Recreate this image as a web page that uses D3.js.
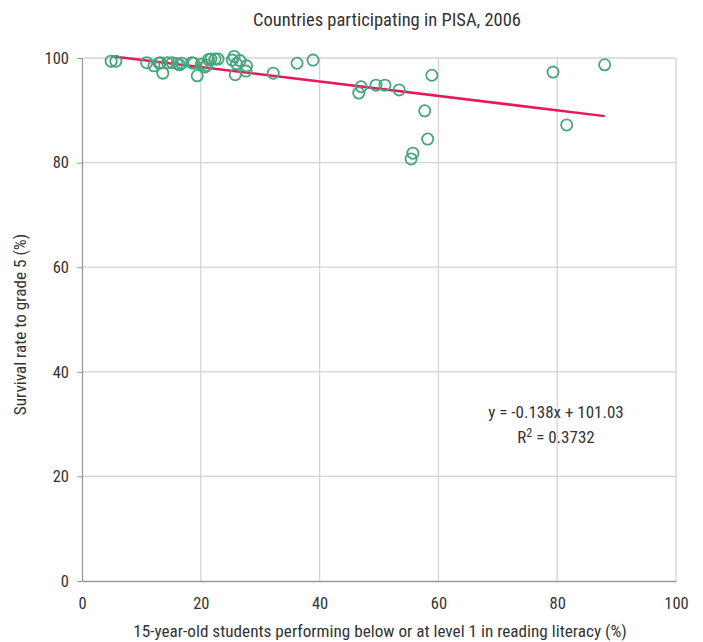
<!DOCTYPE html>
<html><head><meta charset="utf-8">
<script src="https://cdn.jsdelivr.net/npm/d3@7"></script>
<style>
body{margin:0;background:#fff;}
text{font-family:"Liberation Sans Narrow","Roboto Condensed","Arial Narrow",sans-serif;fill:#333;}
</style></head><body>
<svg id="c" width="703" height="642"></svg>
<script>
const title = "Countries participating in PISA, 2006";
const xLabel = "15-year-old students performing below or at level 1 in reading literacy (%)";
const yLabel = "Survival rate to grade 5 (%)";
const xTicks = [0,20,40,60,80,100];
const yTicks = [0,20,40,60,80,100];
const lowReaders = [4.9,5.7,10.9,12.1,13.0,13.2,13.6,14.4,15.2,16.0,16.4,16.8,18.5,18.8,19.4,20.1,20.7,21.0,21.3,21.7,22.4,22.9,25.3,25.6,25.8,26.0,26.6,27.7,27.6,32.2,36.2,38.9,46.6,47.0,49.5,51.0,53.4,58.9,57.7,58.2,55.7,55.4,79.3,81.6,88.0];
const survival = [99.4,99.4,99.1,98.5,99.0,99.1,97.1,99.1,99.1,98.9,98.7,99.0,99.1,99.0,96.6,98.8,98.3,98.6,99.7,99.8,99.8,99.8,99.6,100.3,96.8,98.9,99.5,98.5,97.5,97.1,99.0,99.6,93.3,94.5,94.8,94.8,93.9,96.7,89.9,84.5,81.8,80.7,97.3,87.2,98.7];
const slope = -0.138, intercept = 101.03, r2 = "0.3732";

const svg = d3.select("#c");
const m = {l:82, r:27, t:58, b:61};
const W = 703, H = 642;
const x = d3.scaleLinear().domain([0,100]).range([m.l, W-m.r]);
const y = d3.scaleLinear().domain([0,100]).range([H-m.b, m.t]);

// gridlines
svg.append("g").selectAll("line").data(xTicks.slice(1)).join("line")
  .attr("x1",d=>x(d)).attr("x2",d=>x(d)).attr("y1",y(0)).attr("y2",y(100))
  .attr("stroke","#d4d4d4").attr("stroke-width",1.3);
svg.append("g").selectAll("line").data(yTicks.slice(1)).join("line")
  .attr("x1",x(0)).attr("x2",x(100)).attr("y1",d=>y(d)).attr("y2",d=>y(d))
  .attr("stroke","#d4d4d4").attr("stroke-width",1.3);

// axes
const xa = svg.append("g").attr("transform",`translate(0,${y(0)})`)
  .call(d3.axisBottom(x).tickValues(xTicks).tickSize(0).tickPadding(16));
xa.select(".domain").attr("stroke","#999").attr("stroke-width",1.3);
xa.selectAll("text").attr("font-size",16.5).style("fill","#333");
const ya = svg.append("g").attr("transform",`translate(${x(0)},0)`)
  .call(d3.axisLeft(y).tickValues(yTicks).tickSize(5).tickSizeOuter(0).tickPadding(8));
ya.select(".domain").attr("stroke","#999").attr("stroke-width",1.3);
ya.selectAll(".tick line").attr("stroke","#999");
ya.selectAll("text").attr("font-size",16.5).style("fill","#333");

// trendline
const xs = d3.extent(lowReaders);
svg.append("line")
  .attr("x1",x(xs[0])).attr("y1",y(slope*xs[0]+intercept))
  .attr("x2",x(xs[1])).attr("y2",y(slope*xs[1]+intercept))
  .attr("stroke","#e8185c").attr("stroke-width",2.5);

// points
svg.append("g").selectAll("circle").data(lowReaders).join("circle")
  .attr("cx",d=>x(d)).attr("cy",(d,i)=>y(survival[i])).attr("r",5.6)
  .attr("fill","none").attr("stroke","#46a67c").attr("stroke-width",1.8);

// texts
svg.append("text").attr("x",387).attr("y",26).attr("text-anchor","middle").attr("font-size",18.5).text(title);
svg.append("text").attr("x",380).attr("y",637).attr("text-anchor","middle").attr("font-size",17.2).text(xLabel);
svg.append("text").attr("transform",`translate(26,${(y(0)+y(100))/2+5}) rotate(-90)`).attr("text-anchor","middle").attr("font-size",17.2).text(yLabel);

const eq = svg.append("text").attr("x",556).attr("y",418).attr("text-anchor","middle").attr("font-size",17);
eq.text(`y = ${slope}x + ${intercept.toFixed(2)}`);
const rt = svg.append("text").attr("x",556).attr("y",443).attr("text-anchor","middle").attr("font-size",17);
rt.append("tspan").text("R");
rt.append("tspan").attr("font-size",12).attr("dy",-6).text("2");
rt.append("tspan").attr("dy",6).text(` = ${r2}`);
</script></body></html>
